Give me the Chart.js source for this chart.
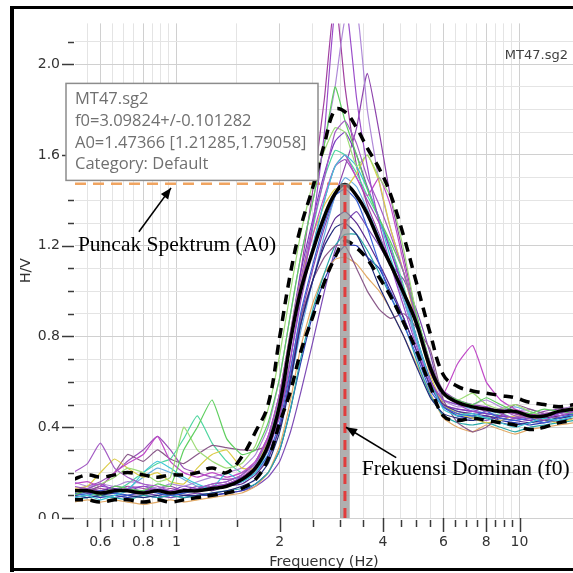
<!DOCTYPE html>
<html><head><meta charset="utf-8">
<script src="https://cdn.jsdelivr.net/npm/chart.js@4.4.1/dist/chart.umd.min.js"></script>
<style>html,body{margin:0;padding:0;background:#fff;overflow:hidden}canvas{display:block}</style>
</head><body>
<canvas id="c" width="573" height="573"></canvas>
<script>
// ---------- DATA ----------
const freq = [0.5,0.55,0.6,0.66,0.72,0.8,0.88,0.96,1.05,1.15,1.27,1.4,1.55,1.7,1.85,2.0,2.15,2.3,2.5,2.7,2.9,3.1,3.35,3.6,3.9,4.2,4.6,5.0,5.5,6.0,6.6,7.3,8.0,8.8,9.7,10.7,11.8,13,14.5];

const meanHV  = [0.12,0.12,0.11,0.12,0.12,0.11,0.12,0.11,0.12,0.12,0.13,0.14,0.17,0.22,0.32,0.5,0.78,1.0,1.18,1.33,1.43,1.47,1.42,1.34,1.22,1.12,0.99,0.86,0.66,0.55,0.51,0.49,0.48,0.47,0.47,0.45,0.45,0.47,0.48];
const upperHV = [0.17,0.19,0.18,0.19,0.2,0.19,0.18,0.19,0.19,0.2,0.22,0.2,0.27,0.38,0.5,0.8,1.08,1.28,1.46,1.65,1.8,1.79,1.72,1.63,1.54,1.43,1.24,1.04,0.81,0.63,0.58,0.56,0.55,0.54,0.53,0.51,0.5,0.49,0.5];
const lowerHV = [0.08,0.08,0.07,0.08,0.08,0.07,0.08,0.07,0.08,0.09,0.1,0.11,0.13,0.17,0.26,0.42,0.56,0.73,0.89,1.04,1.15,1.22,1.19,1.14,1.06,0.98,0.86,0.74,0.58,0.45,0.43,0.44,0.43,0.42,0.41,0.39,0.4,0.42,0.43];

const win01 = [0.14,0.13,0.15,0.12,0.13,0.14,0.12,0.11,0.13,0.12,0.14,0.15,0.18,0.22,0.3,0.45,0.7,0.98,1.3,1.7,2.25,2.3,1.85,1.55,1.3,1.12,0.93,0.76,0.6,0.52,0.5,0.47,0.49,0.46,0.44,0.45,0.43,0.46,0.48];
const win02 = [0.2,0.24,0.33,0.22,0.18,0.15,0.14,0.12,0.12,0.13,0.15,0.16,0.19,0.24,0.35,0.55,0.82,1.05,1.3,1.5,1.7,1.75,1.65,1.5,1.38,1.25,1.08,0.88,0.68,0.55,0.5,0.49,0.47,0.48,0.45,0.44,0.46,0.45,0.47];
const win03 = [0.1,0.12,0.1,0.14,0.13,0.12,0.15,0.14,0.3,0.4,0.52,0.35,0.28,0.3,0.42,0.62,0.9,1.15,1.4,1.65,1.9,1.75,1.6,1.45,1.32,1.22,1.08,0.9,0.68,0.55,0.52,0.5,0.53,0.5,0.47,0.46,0.48,0.47,0.46];
const win04 = [0.12,0.13,0.15,0.18,0.22,0.2,0.16,0.18,0.4,0.3,0.25,0.22,0.24,0.32,0.48,0.72,1.0,1.25,1.48,1.62,1.72,1.7,1.55,1.6,1.5,1.42,1.18,0.9,0.68,0.55,0.52,0.55,0.5,0.48,0.5,0.47,0.45,0.47,0.49];
const win05 = [0.09,0.1,0.08,0.1,0.12,0.2,0.25,0.22,0.18,0.15,0.13,0.2,0.16,0.2,0.3,0.5,0.78,1.0,1.2,1.4,1.55,1.6,1.55,1.45,1.32,1.15,0.98,0.8,0.6,0.48,0.45,0.46,0.44,0.42,0.4,0.42,0.44,0.43,0.45];
const win06 = [0.11,0.1,0.12,0.11,0.1,0.12,0.11,0.1,0.11,0.12,0.13,0.14,0.16,0.2,0.28,0.42,0.65,0.9,1.12,1.3,1.42,1.45,1.4,1.28,1.12,0.98,0.85,0.72,0.56,0.49,0.46,0.45,0.47,0.44,0.43,0.44,0.42,0.44,0.46];
const win07 = [0.1,0.09,0.1,0.11,0.1,0.09,0.1,0.11,0.1,0.1,0.11,0.12,0.14,0.17,0.24,0.38,0.6,0.85,1.05,1.2,1.28,1.3,1.25,1.15,1.02,0.92,0.8,0.67,0.53,0.46,0.44,0.43,0.44,0.42,0.41,0.42,0.43,0.44,0.45];
const win08 = [0.12,0.11,0.12,0.13,0.12,0.11,0.12,0.12,0.11,0.13,0.12,0.14,0.15,0.19,0.26,0.4,0.62,0.85,1.05,1.22,1.32,1.35,1.3,1.22,1.12,1.02,0.88,0.74,0.58,0.5,0.47,0.46,0.45,0.44,0.43,0.42,0.44,0.45,0.46];
const win09 = [0.15,0.16,0.14,0.2,0.24,0.28,0.36,0.25,0.2,0.18,0.2,0.18,0.2,0.25,0.36,0.55,0.8,1.02,1.25,1.42,1.55,1.6,1.5,1.42,1.5,1.38,1.12,0.88,0.64,0.55,0.68,0.76,0.6,0.52,0.48,0.46,0.45,0.47,0.48];
const win10 = [0.13,0.14,0.2,0.26,0.22,0.18,0.2,0.16,0.15,0.22,0.28,0.3,0.22,0.22,0.35,0.55,0.82,1.05,1.25,1.38,1.45,1.45,1.52,1.6,1.48,1.28,1.08,0.86,0.63,0.5,0.46,0.44,0.42,0.43,0.45,0.44,0.43,0.42,0.44];
const win11 = [0.1,0.12,0.14,0.2,0.28,0.25,0.3,0.26,0.24,0.28,0.32,0.31,0.3,0.3,0.32,0.45,0.66,0.88,1.05,1.15,1.2,1.2,1.1,1.0,0.92,0.88,0.9,0.84,0.74,0.52,0.42,0.38,0.4,0.45,0.5,0.48,0.46,0.44,0.45];
const win12 = [0.16,0.14,0.15,0.14,0.16,0.15,0.13,0.15,0.14,0.16,0.18,0.2,0.22,0.28,0.4,0.62,0.9,1.15,1.4,1.65,1.9,2.2,2.25,1.8,1.48,1.28,1.08,0.87,0.65,0.52,0.49,0.5,0.52,0.49,0.47,0.48,0.46,0.47,0.5];
const win13 = [0.08,0.09,0.1,0.09,0.08,0.1,0.09,0.1,0.09,0.1,0.11,0.12,0.13,0.15,0.2,0.3,0.48,0.7,0.92,1.08,1.2,1.25,1.25,1.18,1.08,0.98,0.86,0.7,0.54,0.45,0.42,0.41,0.42,0.4,0.38,0.4,0.41,0.42,0.43];
const win14 = [0.07,0.08,0.07,0.08,0.07,0.06,0.07,0.08,0.07,0.08,0.09,0.1,0.11,0.14,0.2,0.32,0.52,0.75,0.95,1.08,1.14,1.15,1.12,1.06,1.0,0.92,0.8,0.68,0.55,0.44,0.4,0.38,0.41,0.39,0.37,0.39,0.4,0.41,0.42];
const win15 = [0.13,0.12,0.14,0.13,0.12,0.14,0.13,0.12,0.14,0.13,0.15,0.16,0.19,0.25,0.36,0.55,0.82,1.08,1.32,1.52,1.66,1.7,1.6,1.46,1.32,1.18,1.0,0.8,0.61,0.5,0.48,0.47,0.46,0.45,0.44,0.43,0.45,0.46,0.47];
const win16 = [0.1,0.11,0.12,0.11,0.13,0.18,0.22,0.2,0.17,0.14,0.13,0.14,0.16,0.2,0.27,0.4,0.6,0.82,1.05,1.25,1.42,1.5,1.46,1.36,1.24,1.12,0.96,0.78,0.6,0.52,0.5,0.48,0.46,0.47,0.49,0.47,0.45,0.46,0.48];
const win17 = [0.12,0.13,0.12,0.14,0.13,0.12,0.13,0.14,0.12,0.13,0.14,0.15,0.17,0.2,0.27,0.4,0.62,0.88,1.1,1.28,1.42,1.55,1.72,1.96,1.7,1.42,1.15,0.9,0.68,0.56,0.52,0.5,0.49,0.47,0.46,0.45,0.47,0.48,0.49];
const win18 = [0.11,0.1,0.11,0.12,0.15,0.2,0.24,0.26,0.35,0.45,0.33,0.25,0.2,0.24,0.34,0.52,0.78,1.02,1.28,1.5,1.62,1.6,1.52,1.42,1.32,1.2,1.02,0.8,0.61,0.5,0.47,0.45,0.44,0.46,0.44,0.45,0.43,0.44,0.46];
const win19 = [0.09,0.1,0.09,0.1,0.09,0.1,0.09,0.1,0.09,0.1,0.1,0.11,0.12,0.15,0.2,0.3,0.48,0.68,0.9,1.05,1.15,1.2,1.2,1.15,1.1,1.0,0.88,0.74,0.58,0.49,0.45,0.44,0.45,0.43,0.42,0.41,0.42,0.43,0.44];
const win20 = [0.13,0.12,0.13,0.12,0.14,0.13,0.12,0.13,0.12,0.14,0.13,0.15,0.18,0.23,0.33,0.5,0.78,1.08,1.45,1.85,2.3,1.9,1.55,1.38,1.25,1.12,0.96,0.78,0.6,0.5,0.46,0.45,0.47,0.48,0.46,0.44,0.46,0.47,0.49];
const win21 = [0.12,0.14,0.16,0.2,0.25,0.3,0.36,0.3,0.22,0.2,0.18,0.17,0.18,0.22,0.3,0.46,0.7,0.95,1.2,1.4,1.55,1.58,1.5,1.4,1.3,1.2,1.0,0.8,0.6,0.5,0.48,0.47,0.46,0.45,0.44,0.45,0.44,0.45,0.47];
const win22 = [0.1,0.11,0.1,0.09,0.1,0.11,0.1,0.09,0.1,0.11,0.1,0.11,0.12,0.14,0.18,0.25,0.38,0.55,0.78,1.0,1.18,1.3,1.35,1.28,1.2,1.12,1.05,0.92,0.72,0.5,0.45,0.44,0.43,0.45,0.44,0.43,0.42,0.44,0.45];

const windowSeries = [win01,win02,win03,win04,win05,win06,win07,win08,win09,win10,win11,win12,win13,win14,win15,win16,win17,win18,win19,win20,win21,win22];
const windowColors = ['#9b4dca','#a45cc4','#5fcf5f','#9edc78','#3fc6d6','#3a62d8','#1f2a7a','#5a2a90','#c04ac8','#dccc48','#8a5a8a','#b08ad8','#2aa8a8','#e2aa66','#7a3ac0','#6aaee0','#8e44ad','#4fd6a0','#2838b0','#a040a0','#9a50b8','#7d4bb5'];

const f0 = 3.09824, f0Err = 0.101282, A0 = 1.47366;
const infoLines = ['MT47.sg2','f0=3.09824+/-0.101282','A0=1.47366 [1.21285,1.79058]','Category: Default'];
const stationName = 'MT47.sg2';
const labelA0 = 'Puncak Spektrum (A0)';
const labelF0 = 'Frekuensi Dominan (f0)';

const xTickValues = [0.55,0.6,0.65,0.7,0.75,0.8,0.85,0.9,0.95,1,1.5,2,2.5,3,3.5,4,4.5,5,5.5,6,6.5,7,7.5,8,8.5,9,9.5,10];
const xMajor = [0.6,0.8,1,2,4,6,8,10];
const yTickValues = [0,0.1,0.2,0.3,0.4,0.5,0.6,0.7,0.8,0.9,1.0,1.1,1.2,1.3,1.4,1.5,1.6,1.7,1.8,1.9,2.0,2.1];
const yMajor = [0,0.4,0.8,1.2,1.6,2.0];

// ---------- BUILD ----------
const pts = arr => arr.map((v,i)=>({x:freq[i], y:v}));
const datasets = [
  {data:pts(meanHV), borderColor:'#000', borderWidth:3.5, tension:0.4, order:0},
  {data:pts(upperHV), borderColor:'#000', borderWidth:3.5, borderDash:[10,7], tension:0.4, order:0},
  {data:pts(lowerHV), borderColor:'#000', borderWidth:3.5, borderDash:[10,7], tension:0.4, order:0}
];
windowSeries.forEach((s,i)=>datasets.push({data:pts(s), borderColor:windowColors[i], borderWidth:1.2, tension:0.15, order:1}));
datasets.forEach(d=>{d.pointRadius=0; d.fill=false;});

const AX_FONT = {family:'DejaVu Sans', size:14};

function arrow(ctx, x1, y1, x2, y2){
  ctx.beginPath(); ctx.moveTo(x1,y1); ctx.lineTo(x2,y2); ctx.stroke();
  const a = Math.atan2(y2-y1, x2-x1), L = 11, W = 4.5;
  ctx.beginPath();
  ctx.moveTo(x2,y2);
  ctx.lineTo(x2 - L*Math.cos(a) + W*Math.sin(a), y2 - L*Math.sin(a) - W*Math.cos(a));
  ctx.lineTo(x2 - L*Math.cos(a) - W*Math.sin(a), y2 - L*Math.sin(a) + W*Math.cos(a));
  ctx.closePath(); ctx.fill();
}

const decor = {
  id:'decor',
  beforeDatasetsDraw(chart){
    const {ctx, chartArea:ca, scales:{x,y}} = chart;
    ctx.save();
    ctx.strokeStyle = '#f0a460'; ctx.lineWidth = 2.5; ctx.setLineDash([11,7]);
    ctx.beginPath(); ctx.moveTo(ca.left, y.getPixelForValue(A0)); ctx.lineTo(x.getPixelForValue(f0), y.getPixelForValue(A0)); ctx.stroke();
    ctx.restore();
  },
  afterDatasetsDraw(chart){
    const {ctx, scales:{x,y}} = chart;
    ctx.save();
    const xl = x.getPixelForValue(f0-f0Err), xr = x.getPixelForValue(f0+f0Err);
    const yt = y.getPixelForValue(A0), yb = y.getPixelForValue(0);
    ctx.fillStyle = 'rgba(150,150,150,0.75)';
    ctx.fillRect(xl, yt, xr-xl, yb-yt);
    ctx.strokeStyle = '#e23c3c'; ctx.lineWidth = 3; ctx.setLineDash([10,7]);
    ctx.beginPath(); ctx.moveTo(x.getPixelForValue(f0), yb); ctx.lineTo(x.getPixelForValue(f0), yt); ctx.stroke();
    ctx.restore();
  },
  afterDraw(chart){
    const {ctx, chartArea:ca, scales:{x,y}} = chart;
    ctx.save();
    // the "0.0" label is cut by the axis band, as in the source screenshot
    ctx.fillStyle = '#fff';
    ctx.fillRect(14, ca.bottom + 1, ca.left - 14, 14);
    // tick marks
    ctx.strokeStyle = '#3a3a3a'; ctx.lineWidth = 1.5;
    xTickValues.forEach(v=>{
      const px = Math.round(x.getPixelForValue(v))+0.5;
      const maj = xMajor.includes(v);
      ctx.beginPath(); ctx.moveTo(px, ca.bottom + (maj?0:2)); ctx.lineTo(px, ca.bottom + (maj?14:9)); ctx.stroke();
    });
    yTickValues.forEach(v=>{
      const py = Math.round(y.getPixelForValue(v))+0.5;
      const maj = yMajor.includes(v);
      ctx.beginPath(); ctx.moveTo(ca.left - (maj?13:7), py); ctx.lineTo(ca.left-1, py); ctx.stroke();
    });
    // station name
    ctx.fillStyle = '#404040'; ctx.font = '13px "DejaVu Sans"'; ctx.textAlign = 'right'; ctx.textBaseline = 'middle';
    ctx.fillText(stationName, ca.right - 5, ca.top + 32);
    // info box
    const bx = ca.left - 9, by = ca.top + 60, bw = 252, bh = 97;
    ctx.fillStyle = '#fff'; ctx.fillRect(bx, by, bw, bh);
    ctx.strokeStyle = '#8c8c8c'; ctx.lineWidth = 1.5; ctx.strokeRect(bx, by, bw, bh);
    ctx.fillStyle = '#707070'; ctx.font = '16.5px "Open Sans"'; ctx.textAlign = 'left';
    infoLines.forEach((t,i)=> ctx.fillText(t, bx + 9, by + 16 + i*21.7));
    // annotations
    ctx.fillStyle = '#000'; ctx.strokeStyle = '#000'; ctx.lineWidth = 1.6;
    ctx.font = '21.5px "Liberation Serif"'; ctx.textBaseline = 'middle';
    ctx.fillText(labelA0, x.getPixelForValue(0.516), y.getPixelForValue(1.2));
    arrow(ctx, x.getPixelForValue(0.777), y.getPixelForValue(1.262), x.getPixelForValue(0.964), y.getPixelForValue(1.455));
    ctx.fillText(labelF0, x.getPixelForValue(3.47), y.getPixelForValue(0.215));
    arrow(ctx, x.getPixelForValue(4.37), y.getPixelForValue(0.266), x.getPixelForValue(3.12), y.getPixelForValue(0.40));
    // frame
    ctx.fillStyle = '#000';
    ctx.fillRect(10, 6, 4, 566);
    ctx.fillRect(10, 6, 563, 3);
    ctx.fillRect(10, 568, 563, 3);
    ctx.restore();
  }
};

new Chart(document.getElementById('c'), {
  type:'line',
  data:{datasets},
  options:{
    responsive:false, animation:false, devicePixelRatio:1,
    layout:{padding:{top:10,right:0,left:0,bottom:0}},
    plugins:{legend:{display:false}, tooltip:{enabled:false}},
    scales:{
      x:{
        type:'logarithmic', min:0.506, max:14.32,
        afterBuildTicks: s => { s.ticks = xTickValues.map(v=>({value:v})); },
        afterFit: s => { s.height = 55; },
        ticks:{autoSkip:false, maxRotation:0, minRotation:0, padding:16, color:'#333', font:AX_FONT,
          callback: v => xMajor.includes(v) ? String(v) : ''},
        grid:{drawTicks:false, lineWidth:1, color: c => (c.tick && xMajor.includes(c.tick.value)) ? '#d0d0d0' : '#e4e4e4'},
        border:{display:false},
        title:{display:true, text:'Frequency (Hz)', color:'#333', font:{family:'DejaVu Sans', size:14.5}, padding:{top:0,bottom:2}}
      },
      y:{
        type:'linear', min:0, max:2.18,
        afterBuildTicks: s => { s.ticks = yTickValues.map(v=>({value:v})); },
        afterFit: s => { s.width = 75; },
        ticks:{autoSkip:false, padding:15, color:'#333', font:AX_FONT,
          callback: v => yMajor.includes(v) ? v.toFixed(1) : ''},
        grid:{drawTicks:false, lineWidth:1, color: c => (c.tick && yMajor.includes(c.tick.value)) ? '#d0d0d0' : '#e4e4e4'},
        border:{display:false},
        title:{display:true, text:'H/V', color:'#333', font:{family:'DejaVu Sans', size:14}, padding:{top:18,bottom:0}}
      }
    }
  },
  plugins:[decor]
});
</script>
</body></html>
